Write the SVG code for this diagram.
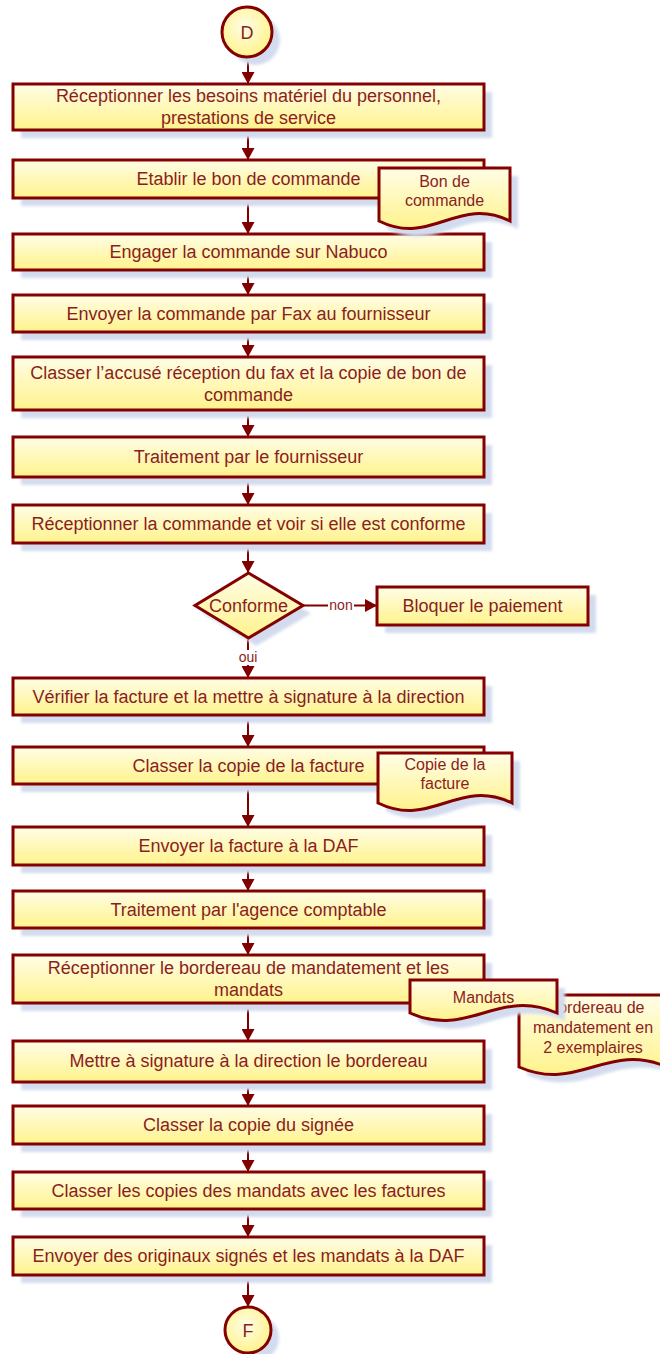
<svg xmlns="http://www.w3.org/2000/svg" width="660" height="1354" viewBox="0 0 660 1354">
<defs>
<linearGradient id="fillG" x1="0" y1="0" x2="0" y2="1">
<stop offset="0" stop-color="#fffde6"/>
<stop offset="1" stop-color="#fff38c"/>
</linearGradient>
<radialGradient id="circG" cx="0.45" cy="0.4" r="0.6">
<stop offset="0" stop-color="#fffde6"/>
<stop offset="1" stop-color="#fff38c"/>
</radialGradient>
<filter id="blur" x="-10%" y="-10%" width="120%" height="120%">
<feGaussianBlur stdDeviation="1.5"/>
</filter>
<marker id="arr" viewBox="0 0 12 13" refX="12" refY="6.5" markerWidth="12" markerHeight="13" markerUnits="userSpaceOnUse" orient="auto">
<path d="M0,0 L12,6.5 L0,13 Z" fill="#800000"/>
</marker>
</defs>
<style>
.box{fill:url(#fillG);stroke:#850000;stroke-width:3}
.circ{fill:url(#circG);stroke:#850000;stroke-width:3}
.sh{fill:#d3dcee;filter:url(#blur)}
.t{font-family:"Liberation Sans",Arial,sans-serif;font-size:18px;fill:#8b1e1e;text-anchor:middle}
.d{font-family:"Liberation Sans",Arial,sans-serif;font-size:16px;fill:#8b1e1e;text-anchor:middle}
.s{font-family:"Liberation Sans",Arial,sans-serif;font-size:14px;fill:#8b1e1e;text-anchor:middle}
.c{fill:none;stroke:#800000;stroke-width:2;marker-end:url(#arr)}
</style>
<rect width="660" height="1354" fill="#ffffff"/>

<g id="connectors">
<line class="c" x1="248" y1="57" x2="248" y2="84"/>
<line class="c" x1="248" y1="130" x2="248" y2="160"/>
<line class="c" x1="248" y1="198" x2="248" y2="234"/>
<line class="c" x1="248" y1="270" x2="248" y2="295"/>
<line class="c" x1="248" y1="332" x2="248" y2="357"/>
<line class="c" x1="248" y1="410" x2="248" y2="437"/>
<line class="c" x1="248" y1="477" x2="248" y2="505"/>
<line class="c" x1="248" y1="543" x2="248" y2="573"/>
<line class="c" x1="303" y1="605.5" x2="377" y2="605.5"/>
<line class="c" x1="248" y1="638" x2="248" y2="678"/>
<line class="c" x1="248" y1="715" x2="248" y2="747"/>
<line class="c" x1="248" y1="784" x2="248" y2="827"/>
<line class="c" x1="248" y1="865" x2="248" y2="891"/>
<line class="c" x1="248" y1="928" x2="248" y2="955"/>
<line class="c" x1="248" y1="1003" x2="248" y2="1041"/>
<line class="c" x1="248" y1="1082" x2="248" y2="1106"/>
<line class="c" x1="248" y1="1144" x2="248" y2="1172"/>
<line class="c" x1="248" y1="1209" x2="248" y2="1237"/>
<line class="c" x1="248" y1="1275" x2="248" y2="1307"/>
<rect x="328" y="598" width="26" height="14" fill="#ffffff"/>
<text class="s" x="341" y="610">non</text>
<rect x="236" y="650" width="24" height="15" fill="#ffffff"/>
<text class="s" x="248" y="662">oui</text>
</g>

<g id="start">
<circle class="sh" cx="255" cy="40" r="25"/>
<circle class="circ" cx="247" cy="32" r="25"/>
<text class="t" x="247" y="38.5">D</text>
</g>

<g id="n1">
<rect class="sh" x="21" y="92" width="471" height="46"/>
<rect class="box" x="13" y="84" width="471" height="46"/>
<text class="t" x="248.5" y="102.3">Réceptionner les besoins matériel du personnel,</text>
<text class="t" x="248.5" y="124.3">prestations de service</text>
</g>
<g id="n2">
<rect class="sh" x="21" y="168" width="471" height="38"/>
<rect class="box" x="13" y="160" width="471" height="38"/>
<text class="t" x="248.5" y="185.3">Etablir le bon de commande</text>
</g>
<g id="n3">
<rect class="sh" x="21" y="242" width="471" height="36"/>
<rect class="box" x="13" y="234" width="471" height="36"/>
<text class="t" x="248.5" y="258.3">Engager la commande sur Nabuco</text>
</g>
<g id="n4">
<rect class="sh" x="21" y="303" width="471" height="37"/>
<rect class="box" x="13" y="295" width="471" height="37"/>
<text class="t" x="248.5" y="319.8">Envoyer la commande par Fax au fournisseur</text>
</g>
<g id="n5">
<rect class="sh" x="21" y="365" width="471" height="53"/>
<rect class="box" x="13" y="357" width="471" height="53"/>
<text class="t" x="248.5" y="379.3">Classer l’accusé réception du fax et la copie de bon de</text>
<text class="t" x="248.5" y="401.3">commande</text>
</g>
<g id="n6">
<rect class="sh" x="21" y="445" width="471" height="40"/>
<rect class="box" x="13" y="437" width="471" height="40"/>
<text class="t" x="248.5" y="463.3">Traitement par le fournisseur</text>
</g>
<g id="n7">
<rect class="sh" x="21" y="513" width="471" height="38"/>
<rect class="box" x="13" y="505" width="471" height="38"/>
<text class="t" x="248.5" y="530.3">Réceptionner la commande et voir si elle est conforme</text>
</g>
<g id="decision">
<polygon class="sh" points="256,581 311,613.5 256,646 203,613.5"/>
<polygon class="box" points="248.5,573 303,605.5 248.5,638 195,605.5"/>
<text class="t" x="248.5" y="611.8">Conforme</text>
</g>
<g id="bloquer">
<rect class="sh" x="385" y="595" width="211" height="38"/>
<rect class="box" x="377" y="587" width="211" height="38"/>
<text class="t" x="482.5" y="612.3">Bloquer le paiement</text>
</g>
<g id="n8">
<rect class="sh" x="21" y="686" width="471" height="37"/>
<rect class="box" x="13" y="678" width="471" height="37"/>
<text class="t" x="248.5" y="702.8">Vérifier la facture et la mettre à signature à la direction</text>
</g>
<g id="n9">
<rect class="sh" x="21" y="755" width="471" height="37"/>
<rect class="box" x="13" y="747" width="471" height="37"/>
<text class="t" x="248.5" y="771.8">Classer la copie de la facture</text>
</g>
<g id="n10">
<rect class="sh" x="21" y="835" width="471" height="38"/>
<rect class="box" x="13" y="827" width="471" height="38"/>
<text class="t" x="248.5" y="852.3">Envoyer la facture à la DAF</text>
</g>
<g id="n11">
<rect class="sh" x="21" y="899" width="471" height="37"/>
<rect class="box" x="13" y="891" width="471" height="37"/>
<text class="t" x="248.5" y="915.8">Traitement par l'agence comptable</text>
</g>
<g id="n12">
<rect class="sh" x="21" y="963" width="471" height="48"/>
<rect class="box" x="13" y="955" width="471" height="48"/>
<text class="t" x="248.5" y="974.3">Réceptionner le bordereau de mandatement et les</text>
<text class="t" x="248.5" y="996.3">mandats</text>
</g>
<g id="n13">
<rect class="sh" x="21" y="1049" width="471" height="41"/>
<rect class="box" x="13" y="1041" width="471" height="41"/>
<text class="t" x="248.5" y="1067.3">Mettre à signature à la direction le bordereau</text>
</g>
<g id="n14">
<rect class="sh" x="21" y="1114" width="471" height="38"/>
<rect class="box" x="13" y="1106" width="471" height="38"/>
<text class="t" x="248.5" y="1131.3">Classer la copie du signée</text>
</g>
<g id="n15">
<rect class="sh" x="21" y="1180" width="471" height="37"/>
<rect class="box" x="13" y="1172" width="471" height="37"/>
<text class="t" x="248.5" y="1196.8">Classer les copies des mandats avec les factures</text>
</g>
<g id="n16">
<rect class="sh" x="21" y="1245" width="471" height="38"/>
<rect class="box" x="13" y="1237" width="471" height="38"/>
<text class="t" x="248.5" y="1262.3">Envoyer des originaux signés et les mandats à la DAF</text>
</g>
<g id="end">
<circle class="sh" cx="256" cy="1338" r="23"/>
<circle class="circ" cx="248" cy="1330" r="23"/>
<text class="t" x="248" y="1336.5">F</text>
</g>

<g id="doc-bon">
<path class="sh" d="M387,176 H518 V229 C465.6,203 439.4,255 387,229 Z"/>
<path class="box" d="M379,168 H510 V221 C457.6,195 431.4,247 379,221 Z"/>
<text class="d" x="444.5" y="187">Bon de</text>
<text class="d" x="444.5" y="206">commande</text>
</g>
<g id="doc-copie">
<path class="sh" d="M386,761 H520 V811 C466.4,785 439.6,837 386,811 Z"/>
<path class="box" d="M378,753 H512 V803 C458.4,777 431.6,829 378,803 Z"/>
<text class="d" x="445" y="770">Copie de la</text>
<text class="d" x="445" y="789">facture</text>
</g>
<g id="doc-bordereau">
<path class="sh" d="M527,1003 H675 V1075 C615.8,1049 586.2,1101 527,1075 Z"/>
<path class="box" d="M519,995 H667 V1067 C607.8,1041 578.2,1093 519,1067 Z"/>
<text class="d" x="596" y="1013">Bordereau de</text>
<text class="d" x="593" y="1033">mandatement en</text>
<text class="d" x="593" y="1053">2 exemplaires</text>
</g>
<g id="doc-mandats">
<path class="sh" d="M418,988 H565 V1021 C506.2,995 476.8,1047 418,1021 Z"/>
<path class="box" d="M410,980 H557 V1013 C498.2,987 468.8,1039 410,1013 Z"/>
<text class="d" x="483.5" y="1003">Mandats</text>
</g>
</svg>
